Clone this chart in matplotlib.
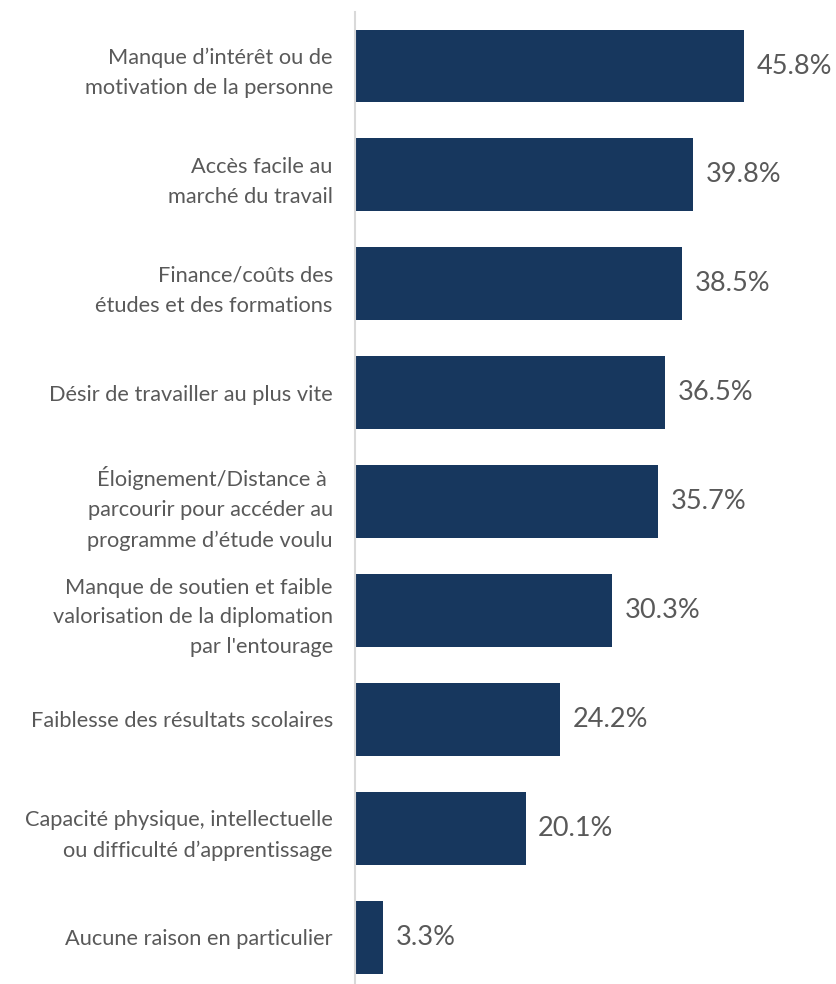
import matplotlib
matplotlib.use('Agg')
import matplotlib.pyplot as plt

categories = [
    "Manque d\u2019intérêt ou de\nmotivation de la personne",
    "Accès facile au\nmarché du travail",
    "Finance/coûts des\nétudes et des formations",
    "Désir de travailler au plus vite",
    "Éloignement/Distance à \nparcourir pour accéder au\nprogramme d\u2019étude voulu",
    "Manque de soutien et faible\nvalorisation de la diplomation\npar l'entourage",
    "Faiblesse des résultats scolaires",
    "Capacité physique, intellectuelle\nou difficulté d\u2019apprentissage",
    "Aucune raison en particulier",
]
values = [45.8, 39.8, 38.5, 36.5, 35.7, 30.3, 24.2, 20.1, 3.3]

bar_color = '#17375E'
text_color = '#595959'

plt.rcParams['font.family'] = ['Lato', 'DejaVu Sans']

fig = plt.figure(figsize=(8.36, 9.84), dpi=100)
ax = fig.add_axes([355 / 836, 0, 481 / 836, 972 / 984])

pos = list(range(len(categories)))
ax.barh(pos, values, height=0.67, color=bar_color)
ax.set_ylim(8.43, -0.496)
ax.set_xlim(0, 481 / 8.49)

for p, v in zip(pos, values):
    ax.annotate(f'{v:.1f}%', (v, p), xytext=(9, 0), textcoords='offset points',
                ha='left', va='center', fontsize=19.5, color=text_color)

ax.set_yticks(pos)
ax.set_yticklabels(categories, fontsize=15.7, color=text_color, linespacing=1.62)
ax.tick_params(axis='y', length=0, pad=16)
ax.set_xticks([])
for s in ['top', 'right', 'bottom']:
    ax.spines[s].set_visible(False)
ax.spines['left'].set_color('#D9D9D9')
ax.spines['left'].set_linewidth(1.5)

fig.savefig('out.png', dpi=100)
